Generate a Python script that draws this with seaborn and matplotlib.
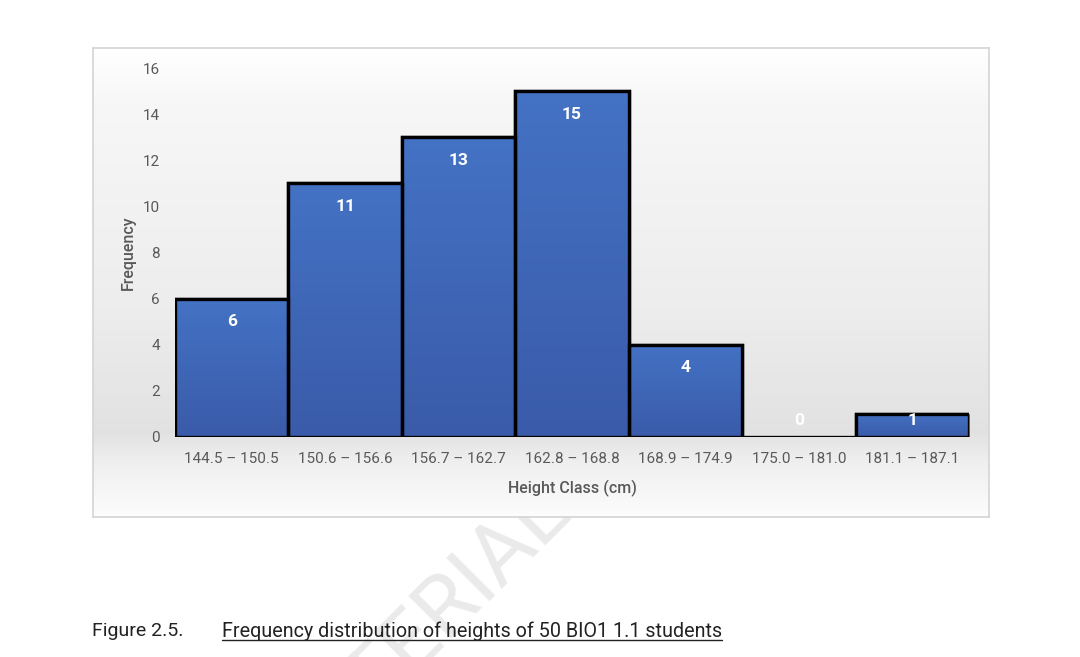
import numpy as np
import pandas as pd
import matplotlib
matplotlib.use("Agg")
import matplotlib.pyplot as plt
from matplotlib.patches import Rectangle
from matplotlib.lines import Line2D
from matplotlib.colors import LinearSegmentedColormap
import seaborn as sns

# ---- data ----
height_classes = ["144.5 – 150.5", "150.6 – 156.6", "156.7 – 162.7", "162.8 – 168.8",
                  "168.9 – 174.9", "175.0 – 181.0", "181.1 – 187.1"]
frequencies = [6, 11, 13, 15, 4, 0, 1]
y_ticks = [0, 2, 4, 6, 8, 10, 12, 14, 16]

sns.set_theme(style="white")
plt.rcParams['font.family'] = ['Roboto', 'DejaVu Sans']

W, H = 1080, 657
fig = plt.figure(figsize=(W / 100, H / 100), dpi=100)
fig.patch.set_facecolor("white")

# watermark (behind chart box)
fig.text(572 / W, 1 - 512 / H, "MATERIAL", fontsize=62, color="#eaeaea",
         rotation=45, ha="right", va="baseline", rotation_mode="anchor",
         zorder=0, family=['Roboto'])

# chart box with vertical gradient background
bx0, bx1, by0, by1 = 93, 989, 48, 517
bg_ax = fig.add_axes([bx0 / W, 1 - by1 / H, (bx1 - bx0) / W, (by1 - by0) / H], zorder=1)
stops = [(0.0, (1.0, 1.0, 1.0)), (0.12, (0.965, 0.968, 0.965)), (0.55, (0.93, 0.93, 0.93)),
         (0.82, (0.885, 0.885, 0.885)), (0.88, (0.935, 0.935, 0.935)), (1.0, (0.99, 0.99, 0.99))]
cmap_bg = LinearSegmentedColormap.from_list("bg", stops)
grad = np.linspace(0, 1, 256).reshape(-1, 1)
bg_ax.imshow(grad, cmap=cmap_bg, aspect="auto", extent=[0, 1, 1, 0], vmin=0, vmax=1)
bg_ax.set_xlim(0, 1); bg_ax.set_ylim(1, 0)
bg_ax.set_xticks([]); bg_ax.set_yticks([])
for s in bg_ax.spines.values():
    s.set_color("#d4d4d4"); s.set_linewidth(1.2)

# main axes
ax_l, ax_r, ax_b, ax_t = 175, 969, 437, 68
ax = fig.add_axes([ax_l / W, 1 - ax_b / H, (ax_r - ax_l) / W, (ax_b - ax_t) / H], zorder=2)
ax.patch.set_alpha(0)

df = pd.DataFrame({"cls": height_classes, "freq": frequencies})
sns.barplot(data=df, x="cls", y="freq", ax=ax, color="#3d63b3", width=1.0,
            edgecolor="black", linewidth=2.4, saturation=1)
ax.set_xlim(-0.5, len(height_classes) - 0.5)
ax.set_ylim(0, 16)

# gradient fill inside bars
cmap_bar = LinearSegmentedColormap.from_list("bar", ["#3a5ba9", "#4472c4"])
for p in list(ax.patches):
    x0, w, h = p.get_x(), p.get_width(), p.get_height()
    if h <= 0:
        continue
    im = ax.imshow(np.linspace(0, 1, 128).reshape(-1, 1), cmap=cmap_bar, aspect="auto",
                   extent=[x0, x0 + w, 0, h], origin="lower", zorder=p.get_zorder() + 0.1)
    im.set_clip_path(p)
    outline = Rectangle((x0, 0), w, h, fill=False, edgecolor="black", linewidth=2.4,
                        zorder=p.get_zorder() + 0.2)
    ax.add_patch(outline)
ax.set_xlim(-0.5, len(height_classes) - 0.5)
ax.set_ylim(0, 16)

# value labels
for i, v in enumerate(frequencies):
    ax.text(i, max(v - 1.0, 0.72), str(v), ha="center", va="center", color="white",
            fontsize=12.5, fontweight="bold", zorder=10)

ax.set_yticks(y_ticks)
ax.set_yticklabels([str(t) for t in y_ticks])
ax.tick_params(axis="y", length=0, pad=11, labelsize=11, labelcolor="#595959")
ax.tick_params(axis="x", length=0, pad=11, labelsize=11, labelcolor="#595959")
for s in ax.spines.values():
    s.set_visible(False)
ax.set_xlabel("Height Class (cm)", fontsize=11.5, color="#595959", labelpad=10,
              fontweight="medium")
ax.set_ylabel("Frequency", fontsize=11.5, color="#595959", labelpad=5, fontweight="medium")
ax.grid(False)

# caption
fig.text(92 / W, 1 - 631 / H, "Figure 2.5.", fontsize=14, color="#222222",
         ha="left", va="center", family=['Roboto'])
cap = fig.text(222 / W, 1 - 631 / H, "Frequency distribution of heights of 50 BIO1 1.1 students",
               fontsize=14.25, color="#222222", ha="left", va="center", family=['Roboto'])
fig.canvas.draw()
bb = cap.get_window_extent(fig.canvas.get_renderer())
uy = (bb.y0 + 1) / H
fig.add_artist(Line2D([bb.x0 / W, bb.x1 / W], [uy, uy], color="#222222", linewidth=1.0,
                      transform=fig.transFigure))

fig.savefig("out.png", dpi=100)
